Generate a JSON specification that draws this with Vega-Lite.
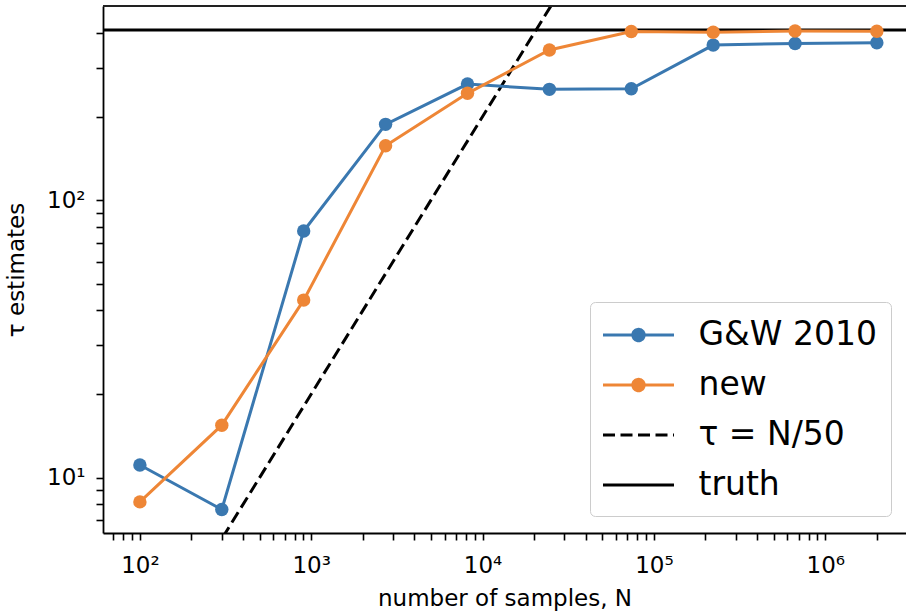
{
  "$schema": "https://vega.github.io/schema/vega-lite/v6.json",
  "width": 803,
  "height": 527,
  "autosize": "none",
  "padding": {"left": 103, "top": 6, "right": 0, "bottom": 78},
  "background": "white",
  "config": {
    "view": {"stroke": null},
    "font": "DejaVu Sans",
    "legend": {
      "orient": "none", "legendX": 487, "legendY": 296,
      "labelFont": "DejaVu Sans", "labelFontSize": 33, "labelColor": "black", "labelLimit": 0,
      "symbolSize": 1260, "symbolStrokeWidth": 3, "symbolOpacity": 1,
      "symbolOffset": 15.5, "labelOffset": 40.5,
      "rowPadding": 13, "padding": 13.5,
      "strokeColor": "#cccccc", "fillColor": "rgba(255,255,255,0.8)", "cornerRadius": 5
    }
  },
  "data": {"values": [
    {"series": "truth", "N": 10, "tau": 410},
    {"series": "truth", "N": 10000000, "tau": 410},
    {"series": "τ = N/50", "N": 100, "tau": 2},
    {"series": "τ = N/50", "N": 100000, "tau": 2000},
    {"series": "G&W 2010", "N": 100, "tau": 11.1},
    {"series": "G&W 2010", "N": 300.6, "tau": 7.67},
    {"series": "G&W 2010", "N": 903.6, "tau": 77.4},
    {"series": "G&W 2010", "N": 2716, "tau": 187.5},
    {"series": "G&W 2010", "N": 8165, "tau": 262},
    {"series": "G&W 2010", "N": 24544, "tau": 250.7},
    {"series": "G&W 2010", "N": 73780, "tau": 252},
    {"series": "G&W 2010", "N": 221780, "tau": 362},
    {"series": "G&W 2010", "N": 666670, "tau": 367},
    {"series": "G&W 2010", "N": 2000000, "tau": 369},
    {"series": "new", "N": 100, "tau": 8.17},
    {"series": "new", "N": 300.6, "tau": 15.44},
    {"series": "new", "N": 903.6, "tau": 43.6},
    {"series": "new", "N": 2716, "tau": 157},
    {"series": "new", "N": 8165, "tau": 242.6},
    {"series": "new", "N": 24544, "tau": 347.6},
    {"series": "new", "N": 73780, "tau": 405},
    {"series": "new", "N": 221780, "tau": 403},
    {"series": "new", "N": 666670, "tau": 407},
    {"series": "new", "N": 2000000, "tau": 406}
  ]},
  "layer": [
    {
      "transform": [{"filter": "datum.series === 'truth'"}],
      "mark": {"type": "line", "strokeWidth": 3, "clip": true},
      "encoding": {
        "x": {"field": "N", "type": "quantitative",
          "scale": {"type": "log", "domain": [60.9, 2960000], "nice": false},
          "axis": {
            "title": "number of samples, N",
            "values": [70,80,90,100,200,300,400,500,600,700,800,900,1000,2000,3000,4000,5000,6000,7000,8000,9000,10000,20000,30000,40000,50000,60000,70000,80000,90000,100000,200000,300000,400000,500000,600000,700000,800000,900000,1000000,2000000],
            "labelExpr": "abs(log(datum.value)/LN10 - round(log(datum.value)/LN10)) < 0.001 ? '10' + ['⁰','¹','²','³','⁴','⁵','⁶','⁷'][round(log(datum.value)/LN10)] : ''",
            "grid": false, "domainColor": "black", "domainWidth": 1.8,
            "tickColor": "black", "tickWidth": 1.6, "tickSize": 7,
            "labelFont": "DejaVu Sans", "labelFontSize": 23, "labelColor": "black",
            "labelPadding": 14, "labelFlush": false, "labelOverlap": false, "labelBound": false,
            "titleFont": "DejaVu Sans", "titleFontSize": 23, "titleFontWeight": "normal",
            "titleColor": "black", "titlePadding": 10,
            "encode": {"ticks": {"y2": {"condition": {"test": "abs(log(datum.value)/LN10 - round(log(datum.value)/LN10)) < 0.001", "value": 7}, "value": 4}}}
          }
        },
        "y": {"field": "tau", "type": "quantitative",
          "scale": {"type": "log", "domain": [6.31, 500.8], "nice": false},
          "axis": {
            "title": "τ estimates",
            "values": [7,8,9,10,20,30,40,50,60,70,80,90,100,200,300,400],
            "labelExpr": "abs(log(datum.value)/LN10 - round(log(datum.value)/LN10)) < 0.001 ? '10' + ['⁰','¹','²','³','⁴','⁵','⁶','⁷'][round(log(datum.value)/LN10)] : ''",
            "grid": false, "domainColor": "black", "domainWidth": 1.8,
            "tickColor": "black", "tickWidth": 1.6, "tickSize": 7,
            "labelFont": "DejaVu Sans", "labelFontSize": 23, "labelColor": "black",
            "labelPadding": 11, "labelFlush": false, "labelOverlap": false, "labelBound": false,
            "titleFont": "DejaVu Sans", "titleFontSize": 23, "titleFontWeight": "normal",
            "titleColor": "black", "titlePadding": 18,
            "encode": {"ticks": {"x2": {"condition": {"test": "abs(log(datum.value)/LN10 - round(log(datum.value)/LN10)) < 0.001", "value": -7}, "value": -4}}}
          }
        },
        "color": {"field": "series", "type": "nominal",
          "scale": {"domain": ["G&W 2010", "new", "τ = N/50", "truth"], "range": ["#3a78b0", "#ee8636", "black", "black"]},
          "legend": {"title": null}
        },
        "strokeDash": {"field": "series", "type": "nominal",
          "scale": {"domain": ["G&W 2010", "new", "τ = N/50", "truth"], "range": [[1, 0], [1, 0], [12, 5.5], [1, 0]]},
          "legend": {"title": null}
        }
      }
    },
    {
      "transform": [{"filter": "datum.series === 'τ = N/50'"}],
      "mark": {"type": "line", "strokeWidth": 3, "clip": true},
      "encoding": {
        "x": {"field": "N", "type": "quantitative"},
        "y": {"field": "tau", "type": "quantitative"},
        "color": {"field": "series", "type": "nominal", "legend": {"title": null}},
        "strokeDash": {"field": "series", "type": "nominal", "legend": {"title": null}}
      }
    },
    {
      "transform": [{"filter": "false"}],
      "mark": {"type": "point", "filled": false, "opacity": 1},
      "encoding": {
        "x": {"field": "N", "type": "quantitative"},
        "y": {"field": "tau", "type": "quantitative"},
        "color": {"field": "series", "type": "nominal", "legend": {"title": null}},
        "fill": {"field": "series", "type": "nominal",
          "scale": {"domain": ["G&W 2010", "new", "τ = N/50", "truth"], "range": ["#3a78b0", "#ee8636", "transparent", "transparent"]},
          "legend": {"title": null}
        },
        "shape": {"field": "series", "type": "nominal",
          "scale": {"domain": ["G&W 2010", "new", "τ = N/50", "truth"], "range": [
            "M-2,0L2,0M-0.32,0A0.32,0.32,0,1,1,0.32,0A0.32,0.32,0,1,1,-0.32,0Z",
            "M-2,0L2,0M-0.32,0A0.32,0.32,0,1,1,0.32,0A0.32,0.32,0,1,1,-0.32,0Z",
            "M-2,0L2,0",
            "M-2,0L2,0"]},
          "legend": {"title": null}
        },
        "strokeDash": {"field": "series", "type": "nominal", "legend": {"title": null}}
      }
    },
    {
      "transform": [{"filter": "datum.series === 'G&W 2010'"}],
      "mark": {"type": "line", "strokeWidth": 3},
      "encoding": {
        "x": {"field": "N", "type": "quantitative"},
        "y": {"field": "tau", "type": "quantitative"},
        "color": {"field": "series", "type": "nominal", "legend": {"title": null}}
      }
    },
    {
      "transform": [{"filter": "datum.series === 'G&W 2010'"}],
      "mark": {"type": "point", "filled": true, "size": 180, "opacity": 1},
      "encoding": {
        "x": {"field": "N", "type": "quantitative"},
        "y": {"field": "tau", "type": "quantitative"},
        "color": {"field": "series", "type": "nominal", "legend": {"title": null}}
      }
    },
    {
      "transform": [{"filter": "datum.series === 'new'"}],
      "mark": {"type": "line", "strokeWidth": 3},
      "encoding": {
        "x": {"field": "N", "type": "quantitative"},
        "y": {"field": "tau", "type": "quantitative"},
        "color": {"field": "series", "type": "nominal", "legend": {"title": null}}
      }
    },
    {
      "transform": [{"filter": "datum.series === 'new'"}],
      "mark": {"type": "point", "filled": true, "size": 180, "opacity": 1},
      "encoding": {
        "x": {"field": "N", "type": "quantitative"},
        "y": {"field": "tau", "type": "quantitative"},
        "color": {"field": "series", "type": "nominal", "legend": {"title": null}}
      }
    },
    {
      "transform": [{"filter": "datum.series === 'truth'"}, {"aggregate": [{"op": "count", "as": "c"}]}],
      "mark": {"type": "rule", "color": "#222222", "strokeWidth": 1.8},
      "encoding": {
        "y": {"datum": 500.8, "type": "quantitative"}
      }
    }
  ]
}
